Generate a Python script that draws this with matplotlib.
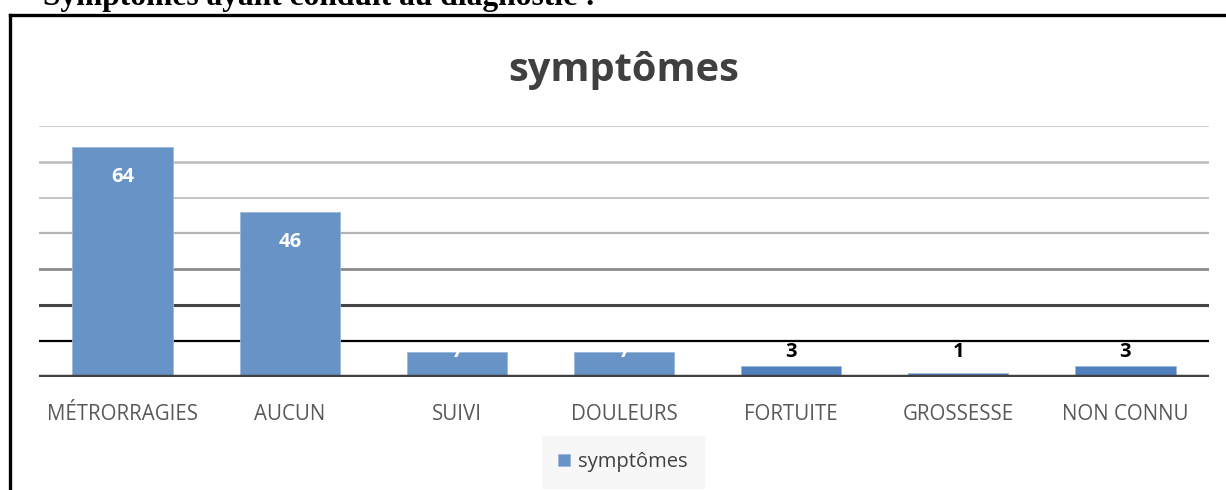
"""
Bar chart of the symptoms that led to the diagnosis.
"""

import matplotlib.pyplot as plt
from matplotlib.lines import Line2D

# ── Data ──────────────────────────────────────────────────────────────
categories = ["MÉTRORRAGIES", "AUCUN", "SUIVI", "DOULEURS",
              "FORTUITE", "GROSSESSE", "NON CONNU"]
counts = [64, 46, 7, 7, 3, 1, 3]
series_name = "symptômes"
header = "Symptômes ayant conduit au diagnostic :"

# ── Figure ────────────────────────────────────────────────────────────
plt.rcParams["font.family"] = ["Open Sans", "DejaVu Sans"]
fig = plt.figure(figsize=(12.26, 4.9), dpi=100)
W, H = 1226, 490

ax = fig.add_axes([39 / W, (H - 376.7) / H, 1170 / W, 250.7 / H])
x = range(len(categories))

bar_colors = ["#6893C6" if v >= 7 else "#4F7FBC" for v in counts]
ax.bar(x, counts, width=0.6, color=bar_colors, edgecolor="#9DB8DA",
       linewidth=0.6, zorder=3, label=series_name)

# gridlines (scanned page: darkness varies from line to line)
grid_style = {
    10: ("#000000", 1.6), 20: ("#454545", 2.2), 30: ("#8A8A8A", 2.0),
    40: ("#B4B4B4", 1.6), 50: ("#C4C4C4", 1.4), 60: ("#BBBBBB", 1.8),
    70: ("#C8C8C8", 1.2),
}
for level, (c, lw) in grid_style.items():
    ax.axhline(level, color=c, linewidth=lw, zorder=1)
ax.axhline(0, color="#404040", linewidth=3.2, zorder=4)

# data labels
for i, v in enumerate(counts):
    y = max(v - 8.3, 7.0)
    c = "white" if v >= 7 else "black"
    ax.text(i, y, str(v), ha="center", va="center", fontsize=14.5,
            fontweight="bold", color=c, zorder=5)

ax.set_xlim(-0.5, len(categories) - 0.5)
ax.set_ylim(0, 70)
ax.set_yticks([])
ax.set_xticks(list(x))
ax.set_xticklabels(categories, fontsize=14.8, color="#595959")
ax.tick_params(axis="x", length=0, pad=20)
for s in ax.spines.values():
    s.set_visible(False)

# title
fig.text(624 / W, 1 - 70 / H, "symptômes", ha="center", va="center",
         fontsize=28.6, fontweight="bold", color="#404040")

# legend
leg = fig.legend(loc="center", bbox_to_anchor=(623 / W, 1 - 462 / H),
                 frameon=True, fontsize=14.5, handlelength=0.6,
                 handleheight=0.6, handletextpad=0.4, borderpad=0.8,
                 borderaxespad=0)
leg.get_frame().set_facecolor("#F6F6F6")
leg.get_frame().set_edgecolor("#F6F6F6")
leg.get_frame().set_boxstyle("square", pad=0)
for t in leg.get_texts():
    t.set_color("#404040")

# page text above the chart box (cut off by the scan)
fig.text(43 / W, 1 - 5 / H, header, ha="left", va="baseline",
         fontsize=22.7, fontweight="bold", color="black",
         family=["Liberation Serif"])

# chart box border
fig.add_artist(Line2D([10 / W, 1.01], [1 - 15 / H, 1 - 15 / H],
                      color="black", linewidth=2.4))
fig.add_artist(Line2D([10 / W, 10 / W], [-0.01, 1 - 15 / H],
                      color="black", linewidth=2.4))

plt.savefig("out.png", dpi=100)
